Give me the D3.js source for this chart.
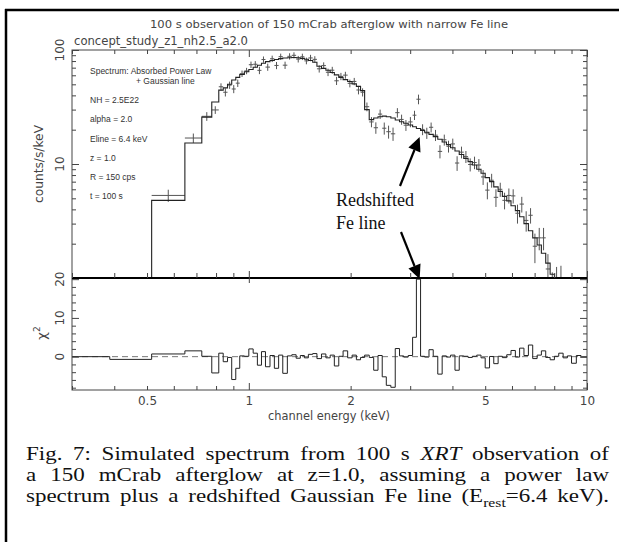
<!DOCTYPE html>
<html><head><meta charset="utf-8">
<script src="https://cdn.jsdelivr.net/npm/d3@7"></script>
<style>html,body{margin:0;padding:0;background:#fff}svg{display:block}</style>
</head><body>
<svg id="chart" width="619" height="542"></svg>
<script>
// ---------------- data ----------------
const binEdges = [0.3,0.388,0.516,0.647,0.726,0.777,0.815,0.84,0.865,0.89,0.915,0.94,0.97,1.0,1.03,1.06,1.09,1.12,1.155,1.19,1.225,1.26,1.30,1.34,1.38,1.42,1.46,1.50,1.545,1.59,1.64,1.69,1.74,1.79,1.845,1.90,1.96,2.02,2.08,2.14,2.20,2.27,2.34,2.41,2.48,2.55,2.63,2.71,2.79,2.87,2.96,3.05,3.13,3.22,3.31,3.41,3.51,3.62,3.73,3.84,3.95,4.07,4.19,4.32,4.45,4.58,4.72,4.86,5.0,5.15,5.3,5.46,5.62,5.79,5.96,6.14,6.32,6.51,6.71,6.91,7.12,7.33,7.55,7.78,8.01,8.25,8.5,8.75,9.0,9.3,9.6,10.0];
const modelRate = [0.05,0.6,4.8,15.3,25.8,35,44.5,46.5,50,54.5,57.5,61,64.5,67.5,70.5,73.5,76.5,79,81,82.5,84,85,85.5,86,85.5,84.5,83,81,78,72,69,66.5,63.5,60.5,57.5,55,53,50.5,48,44,30,24.5,25.3,26,26.3,26,25.3,24.3,23.5,22.8,22,21.2,20.5,19.7,19,18.2,17.4,16.5,15.6,14.8,13.9,13,12.1,11.2,10.5,9.8,9.0,8.3,7.6,7.0,6.3,5.75,5.2,4.75,4.3,3.9,3.45,3.0,2.6,2.25,1.95,1.65,1.35,1.08,0.87,0.7,0.55,0.45,0.36,0.28,0.22];
const dataRate = [0.05,0.45,5.3,16.9,26.2,29.8,47.6,42.6,49.2,45.5,51.2,62,65.5,74.3,75,66.3,82.5,70.8,83.8,73.2,87.4,73.6,88,89.8,83.2,87.2,80.3,85.2,82.8,68.4,73,63.8,66.5,53.7,58.7,60.2,51,53,44.6,42.6,31.8,23.4,20.8,27.4,20.6,19.2,18.4,28.2,24.6,21.9,23.4,26.8,37,20.1,18.7,21.0,17.9,12.9,16.3,14.3,15.0,10.2,12.7,11.6,9.9,10.3,9.8,7.7,5.9,7.2,5.1,6.0,4.8,5.3,5.25,3.7,4.45,3.2,3.55,1.9,2.25,2.25,1.2,0.75,0.9,0.98,0.45,0.3,0.45,0.24,0.28];
const dataErr = [0.03,0.2,0.65,1.6,2.3,2.3,3.4,3.5,3.6,3.7,3.8,4.0,4.2,4.8,4.9,4.9,5.2,5.1,5.4,5.3,5.5,5.4,5.6,5.6,5.5,5.6,5.4,5.5,5.4,5.0,4.9,4.8,4.7,4.4,4.3,4.2,4.0,3.9,3.8,3.5,2.8,2.4,2.4,2.6,2.5,2.5,2.45,2.7,2.5,2.4,2.4,2.5,3.6,2.2,2.1,2.1,2.0,1.7,1.8,1.7,1.7,1.5,1.5,1.4,1.3,1.3,1.25,1.15,1.0,1.0,0.9,0.85,0.8,0.8,0.75,0.7,0.7,0.65,0.55,0.55,0.5,0.5,0.42,0.37,0.35,0.3,0.3,0.25,0.22,0.2,0.18];
const chiRes = [0,-0.7,0.7,1.5,0.1,-4.2,0.9,-1.3,-0.2,-5.9,-3,0.2,0.1,2,0.9,-2.2,1.3,-2.6,0.3,-3,0.4,-4.3,0.2,0.5,-0.4,0.3,-0.3,0.6,0.8,-0.5,0.7,-0.3,0.4,-2.4,0.1,1.5,-0.3,0.4,-0.8,-0.2,0.4,-0.2,-3.5,0.3,-5.2,-7.4,-7.9,2.1,0.2,-0.1,0.3,5.0,20,0.1,-0.1,1.8,0.1,-4.5,0.2,-0.1,0.4,-3.5,0.2,0.1,-0.2,0.1,0.4,-0.3,-2.9,0.05,-1.8,0.1,-0.25,0.5,1.6,-0.1,2.2,0.3,3.0,-0.5,0.4,1.5,-0.2,-0.8,0.1,0.9,-0.3,0.2,-1.7,0.3,-0.1];

const xMajorTicks = [1,10];
const xMinorTicks = [0.3,0.4,0.5,0.6,0.7,0.8,0.9,2,3,4,5,6,7,8,9];
const xTickValues = [0.5,1,2,5,10];
const xTickLabels = ["0.5","1","2","5","10"];
const yTopMajor = [10,100];
const yTopMinor = [2,3,4,5,6,7,8,9,20,30,40,50,60,70,80,90];
const yTopLabels = [[100,"100"],[10,"10"]];
const yBotMajor = [0,10,20];
const yBotMinor = [-8,-6,-4,-2,2,4,6,8,12,14,16,18];
const yBotLabels = [[20,"20"],[10,"10"],[0,"0"]];

const titleText = "100 s observation of 150 mCrab afterglow with narrow Fe line";
const runName = "concept_study_z1_nh2.5_a2.0";
const infoLines = ["Spectrum: Absorbed Power Law","+ Gaussian line","NH = 2.5E22","alpha = 2.0","Eline = 6.4 keV","z = 1.0","R = 150 cps","t = 100 s"];
const annotation = ["Redshifted","Fe line"];
const captionLines = [
  "Fig. 7: Simulated spectrum from 100 s *XRT* observation of",
  "a 150 mCrab afterglow at z=1.0, assuming a power law",
  "spectrum plus a redshifted Gaussian Fe line (E_rest_=6.4 keV)."
];

// ---------------- layout ----------------
const svg = d3.select("#chart");
const L = 72, R = 587, T = 50, SEP = 278, B = 390;
const x = d3.scaleLog().domain([0.3,10]).range([L,R]);
const yTop = d3.scaleLog().domain([1,100]).range([SEP,T]);
const yBot = d3.scaleLinear().domain([-8.6,20.3]).range([B,SEP]);
const sans = "'DejaVu Sans', sans-serif";
const serif = "'Liberation Serif','Times New Roman',serif";

// outer frame
svg.append("line").attr("x1",5).attr("x2",619).attr("y1",10).attr("y2",10).attr("stroke","#000").attr("stroke-width",2.5);
svg.append("line").attr("x1",6).attr("x2",6).attr("y1",9).attr("y2",542).attr("stroke","#000").attr("stroke-width",2.5);

// clip paths
const defs = svg.append("defs");
defs.append("clipPath").attr("id","clipTop").append("rect").attr("x",L).attr("y",T).attr("width",R-L).attr("height",SEP-T);
defs.append("clipPath").attr("id","clipBot").append("rect").attr("x",L).attr("y",SEP).attr("width",R-L).attr("height",B-SEP);

const bins = modelRate.map((m,i)=>({lo:binEdges[i],hi:binEdges[i+1],m:m,d:dataRate[i],e:dataErr[i],r:chiRes[i]}));

// data crosses
const gTop = svg.append("g").attr("clip-path","url(#clipTop)");
const yT = v => v > 0 ? yTop(v) : SEP + 50;
bins.forEach(b=>{
  const xc = x(Math.sqrt(b.lo*b.hi));
  gTop.append("line").attr("x1",x(b.lo)).attr("x2",x(b.hi)).attr("y1",yT(b.d)).attr("y2",yT(b.d)).attr("stroke","#555").attr("stroke-width",1);
  gTop.append("line").attr("x1",xc).attr("x2",xc).attr("y1",yT(b.d-b.e)).attr("y2",yT(b.d+b.e)).attr("stroke","#555").attr("stroke-width",1);
});
// model step
const stepLine = d3.line().curve(d3.curveStepAfter).x(d=>d[0]).y(d=>d[1]);
const modelPts = bins.map(b=>[x(b.lo),yT(b.m)]);
modelPts.push([x(bins[bins.length-1].hi), yT(bins[bins.length-1].m)]);
gTop.append("path").attr("d",stepLine(modelPts)).attr("fill","none").attr("stroke","#222").attr("stroke-width",1.1);

// residuals
const gBot = svg.append("g").attr("clip-path","url(#clipBot)");
gBot.append("line").attr("x1",L).attr("x2",R).attr("y1",yBot(0)).attr("y2",yBot(0)).attr("stroke","#777").attr("stroke-width",1).attr("stroke-dasharray","6,4");
const resPts = bins.map(b=>[x(b.lo),yBot(b.r)]);
resPts.push([x(bins[bins.length-1].hi), yBot(bins[bins.length-1].r)]);
gBot.append("path").attr("d",stepLine(resPts)).attr("fill","none").attr("stroke","#222").attr("stroke-width",1);

// frames
svg.append("rect").attr("x",L).attr("y",T).attr("width",R-L).attr("height",B-T).attr("fill","none").attr("stroke","#444").attr("stroke-width",1);
svg.append("line").attr("x1",L).attr("x2",R).attr("y1",SEP).attr("y2",SEP).attr("stroke","#000").attr("stroke-width",2);

// ticks
function ticks(axisFn, scale, values, size, tx, ty) {
  const g = svg.append("g").attr("transform",`translate(${tx},${ty})`)
    .call(axisFn(scale).tickValues(values).tickSize(size).tickFormat(""));
  g.select(".domain").remove();
  g.selectAll("line").attr("stroke","#444");
  g.selectAll("text").remove();
}
ticks(d3.axisTop, x, xMinorTicks, -4, 0, T);
ticks(d3.axisTop, x, xMajorTicks, -7, 0, T);
ticks(d3.axisBottom, x, xMinorTicks, -5, 0, SEP);
ticks(d3.axisBottom, x, xMajorTicks, -7, 0, SEP);
ticks(d3.axisBottom, x, xMajorTicks, 5, 0, SEP);
ticks(d3.axisBottom, x, xMinorTicks, -4, 0, B);
ticks(d3.axisBottom, x, xMajorTicks, -7, 0, B);
ticks(d3.axisLeft, yTop, yTopMinor, -4, L, 0);
ticks(d3.axisLeft, yTop, yTopMajor, -7, L, 0);
ticks(d3.axisRight, yTop, yTopMinor, -4, R, 0);
ticks(d3.axisRight, yTop, yTopMajor, -7, R, 0);
ticks(d3.axisLeft, yBot, yBotMinor, -4, L, 0);
ticks(d3.axisLeft, yBot, yBotMajor, -7, L, 0);
ticks(d3.axisRight, yBot, yBotMinor, -4, R, 0);
ticks(d3.axisRight, yBot, yBotMajor, -7, R, 0);

// x tick labels
const xl = svg.append("g").attr("transform",`translate(0,${B})`)
  .call(d3.axisBottom(x).tickValues(xTickValues).tickSize(0).tickPadding(6).tickFormat((d,i)=>xTickLabels[i]));
xl.select(".domain").remove();
xl.selectAll("text").attr("font-family",sans).attr("font-size",12).attr("fill","#444");

// y tick labels (rotated)
function yLabels(scale, list) {
  list.forEach(([v,t])=>{
    svg.append("text").attr("transform",`translate(${L-12},${scale(v)}) rotate(-90)`)
      .attr("text-anchor","middle").attr("dy","0.36em")
      .attr("font-family",sans).attr("font-size",12).attr("fill","#444").text(t);
  });
}
yLabels(yTop, yTopLabels);
yLabels(yBot, yBotLabels);

// axis titles
svg.append("text").attr("transform",`translate(39,164) rotate(-90)`).attr("text-anchor","middle").attr("dy","0.35em")
  .attr("font-family",sans).attr("font-size",12).attr("fill","#444").attr("textLength",78).attr("lengthAdjust","spacingAndGlyphs").text("counts/s/keV");
const chi = svg.append("text").attr("transform",`translate(41,333) rotate(-90)`).attr("text-anchor","middle").attr("dy","0.35em")
  .attr("font-family",sans).attr("font-size",13).attr("fill","#444");
chi.append("tspan").text("χ");
chi.append("tspan").attr("dy",-6).attr("font-size",9).text("2");
svg.append("text").attr("x",329).attr("y",420).attr("text-anchor","middle")
  .attr("font-family",sans).attr("font-size",11.5).attr("fill","#444").attr("textLength",122).attr("lengthAdjust","spacingAndGlyphs").text("channel energy (keV)");

// titles
svg.append("text").attr("x",329).attr("y",28).attr("text-anchor","middle")
  .attr("font-family",sans).attr("font-size",11).attr("fill","#444").attr("textLength",358).attr("lengthAdjust","spacingAndGlyphs").text(titleText);
svg.append("text").attr("x",74).attr("y",45)
  .attr("font-family",sans).attr("font-size",12).attr("fill","#444").attr("textLength",174).attr("lengthAdjust","spacingAndGlyphs").text(runName);

// info block
const infoPos = [[90,74],[136,84],[90,103],[90,122],[90,142],[90,161],[90,180],[90,199]];
infoLines.forEach((t,i)=>{
  svg.append("text").attr("x",infoPos[i][0]).attr("y",infoPos[i][1])
    .attr("font-family","'Liberation Sans',Arial,sans-serif").attr("font-size",8.5).attr("fill","#333").text(t);
});

// annotation
svg.append("text").attr("x",336).attr("y",206).attr("font-family",serif).attr("font-size",18).attr("fill","#111").text(annotation[0]);
svg.append("text").attr("x",336).attr("y",229).attr("font-family",serif).attr("font-size",18).attr("fill","#111").text(annotation[1]);
function arrow(x1,y1,x2,y2){
  const ang = Math.atan2(y2-y1,x2-x1), len = 14, hw = 6.5;
  const bx = x2 - len*Math.cos(ang), by = y2 - len*Math.sin(ang);
  svg.append("line").attr("x1",x1).attr("y1",y1).attr("x2",bx).attr("y2",by).attr("stroke","#000").attr("stroke-width",2.2);
  const px = -Math.sin(ang)*hw, py = Math.cos(ang)*hw;
  svg.append("path").attr("d",`M${x2},${y2}L${bx+px},${by+py}L${bx-px},${by-py}Z`).attr("fill","#000");
}
arrow(400,186,x(3.2),137);
arrow(401,232,x(3.2),279);

// caption (justified, slightly compressed vertically like the scanned original)
function parseWord(w){
  const segs = []; const re = /(\*[^*]+\*|_[^_]+_|[^*_]+)/g; let m;
  while((m = re.exec(w))){ const s=m[0];
    if(s[0]==="*") segs.push({t:s.slice(1,-1),i:true});
    else if(s[0]==="_") segs.push({t:s.slice(1,-1),sub:true});
    else segs.push({t:s}); }
  return segs;
}
const capX0 = 26, capX1 = 609, capFs = 23, capBase = [460,481,502], capSy = 0.82;
captionLines.forEach((line,li)=>{
  const gl = svg.append("g").attr("transform",`translate(0,${capBase[li]}) scale(1,${capSy})`);
  const words = line.split(" ").map(w=>{
    const t = gl.append("text").attr("y",0).attr("font-family",serif).attr("font-size",capFs).attr("fill","#111");
    let shifted = false;
    parseWord(w).forEach(s=>{
      const ts = t.append("tspan").text(s.t);
      if(s.i) ts.attr("font-style","italic");
      if(s.sub){ ts.attr("font-size",capFs*0.68).attr("dy",6); shifted = true; }
      else if(shifted){ ts.attr("dy",-6); shifted=false; }
    });
    return t;
  });
  const widths = words.map(t=>t.node().getComputedTextLength());
  const gap = (capX1-capX0-d3.sum(widths))/(words.length-1);
  let cx = capX0;
  words.forEach((t,i)=>{ t.attr("x",cx); cx += widths[i]+gap; });
});
</script>
</body></html>
